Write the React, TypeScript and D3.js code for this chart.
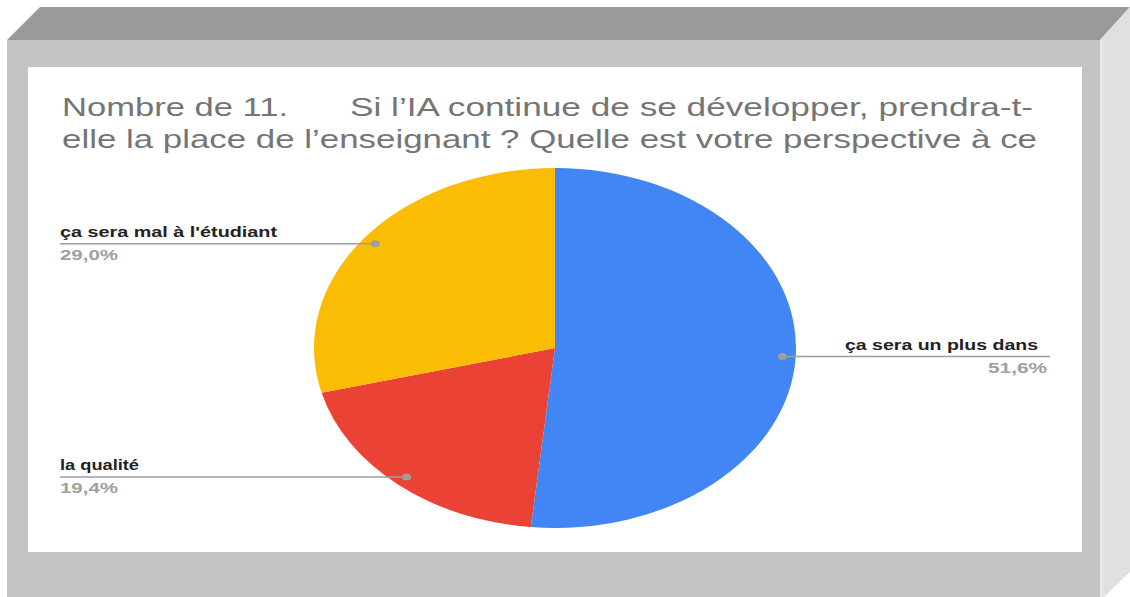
import React from "react";
import * as d3 from "d3";

const categories = ["ça sera un plus dans", "la qualité", "ça sera mal à l'étudiant"];
const values = [51.6, 19.4, 29.0];
const percentLabels = ["51,6%", "19,4%", "29,0%"];
const colors = ["#4285F4", "#EA4335", "#FBBC04"];
const titleLine1a = "Nombre de 11.";
const titleLine1b = "Si l\u2019IA continue de se développer, prendra-t-";
const titleLine2 = "elle la place de l\u2019enseignant ? Quelle est votre perspective à ce";

// layout (not data)
const W = 1130, H = 597;
const cx = 555, cy = 348, R = 180, sx = 241 / 180;
const dotR = 170;
const labelWidths = [193, 79, 217];
const pctWidths = [59, 58, 58];
const FONT = "'Liberation Sans', Arial, sans-serif";

export default function App() {
  const pie = d3.pie<number>().sort(null).value((d) => d);
  const arcs = pie(values);
  const arc = d3.arc<d3.PieArcDatum<number>>().innerRadius(0).outerRadius(R);

  return (
    <svg width={W} height={H} style={{ position: "absolute", left: 0, top: 0 }} fontFamily={FONT}>
      <rect x={0} y={0} width={W} height={H} fill="#ffffff" />
      {/* 3D frame */}
      <polygon points="40,7 1130,7 1100,40 7,40" fill="#9a9a9a" />
      <polygon points="1100,40 1130,7 1130,572 1104,597 1100,597" fill="#e0e0e0" />
      <rect x={1100} y={40} width={3} height={557} fill="#e8e8e8" />
      <rect x={7} y={40} width={1093} height={557} fill="#c4c4c4" />
      <rect x={28} y={67} width={1054} height={485} fill="#ffffff" />

      {/* title */}
      <g fill="#757575" fontSize={25}>
        <text x={62} y={116} textLength={226} lengthAdjust="spacingAndGlyphs">{titleLine1a}</text>
        <text x={350} y={116} textLength={683} lengthAdjust="spacingAndGlyphs">{titleLine1b}</text>
        <text x={62} y={148} textLength={975} lengthAdjust="spacingAndGlyphs">{titleLine2}</text>
      </g>

      {/* pie */}
      <g transform={`translate(${cx},${cy}) scale(${sx},1)`}>
        {arcs.map((a, i) => (
          <path key={i} d={arc(a) || ""} fill={colors[i]} />
        ))}
      </g>

      {/* leaders and labels */}
      {arcs.map((a, i) => {
        const mid = (a.startAngle + a.endAngle) / 2;
        const dx = cx + Math.sin(mid) * dotR * sx;
        const dy = cy - Math.cos(mid) * dotR;
        const right = Math.sin(mid) > 0;
        const x1 = right ? dx : 60;
        const x2 = right ? 1050 : dx;
        return (
          <g key={i}>
            <line x1={x1} x2={x2} y1={dy} y2={dy} stroke="#9e9e9e" strokeWidth={1.5} />
            <ellipse cx={dx} cy={dy} rx={4.5} ry={3.5} fill="#9e9e9e" />
            <text
              x={right ? 1038 - labelWidths[i] : 60}
              y={dy - 6.5}
              fontSize={15}
              fontWeight="bold"
              fill="#222222"
              textLength={labelWidths[i]}
              lengthAdjust="spacingAndGlyphs"
            >
              {categories[i]}
            </text>
            <text
              x={right ? 1047 - pctWidths[i] : 60}
              y={dy + 16.5}
              fontSize={15}
              fontWeight="bold"
              fill="#a0a0a0"
              textLength={pctWidths[i]}
              lengthAdjust="spacingAndGlyphs"
            >
              {percentLabels[i]}
            </text>
          </g>
        );
      })}
    </svg>
  );
}
